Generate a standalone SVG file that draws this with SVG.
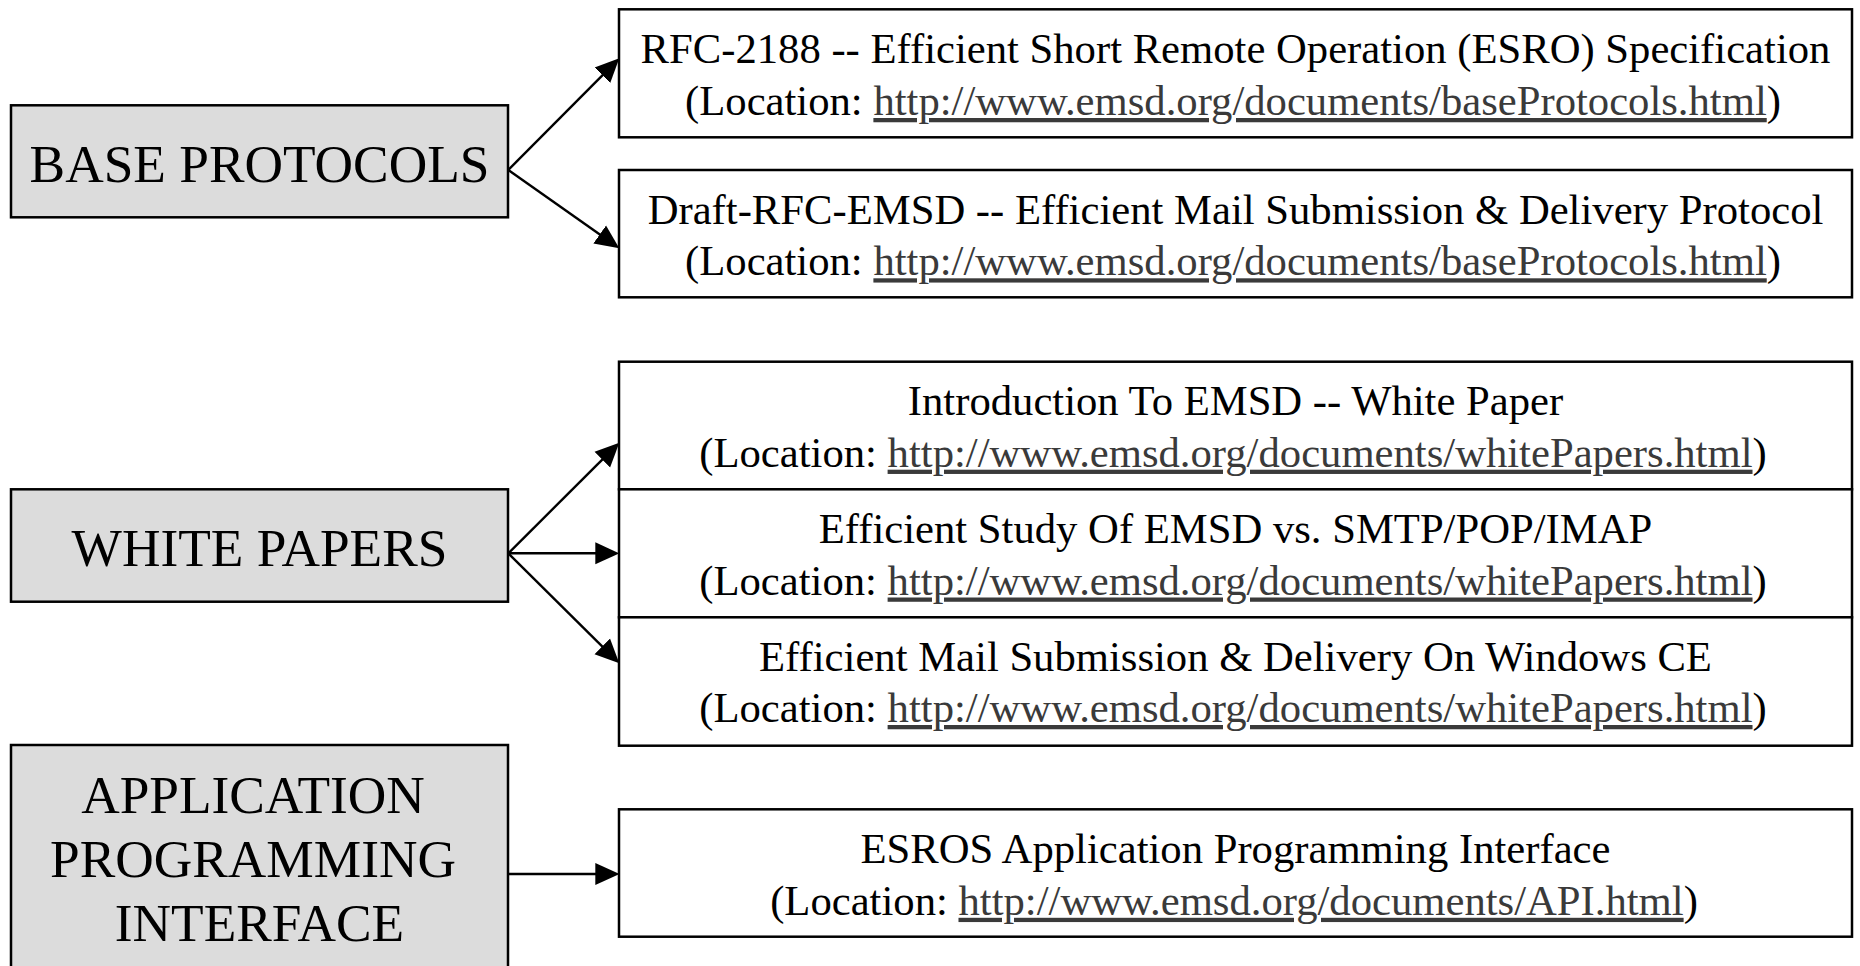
<svg xmlns="http://www.w3.org/2000/svg" width="1860" height="966" viewBox="0 0 1860 966">
  <style>
    text { font-family: "Liberation Serif", "Times New Roman", serif; fill: #000; }
    .cat { fill: #dcdcdc; stroke: #000; stroke-width: 2.5; }
    .doc { fill: #fff; stroke: #000; stroke-width: 2.5; }
    .big { font-size: 53.33px; text-anchor: middle; }
    .t { font-size: 42.67px; text-anchor: middle; }
    .url { fill: #3a3a3a; text-decoration: underline; }
    .edge { fill: none; stroke: #000; stroke-width: 2.4; marker-end: url(#ah); }
  </style>
  <defs>
    <marker id="ah" markerUnits="userSpaceOnUse" markerWidth="24" markerHeight="24" viewBox="0 0 24 24" refX="18" refY="12" orient="auto">
      <path d="M0,1 L24,12 L0,23 Z" fill="#000"/>
    </marker>
  </defs>
  <rect width="1860" height="966" fill="#fff"/>

  <g id="connectors">
    <path class="edge" d="M508.3,170 L615.07,62.56"/>
    <path class="edge" d="M508.3,170 L614.4,244.84"/>
    <path class="edge" d="M508.3,553.3 L615.05,446.93"/>
    <path class="edge" d="M508.3,553.3 L613.3,553.3"/>
    <path class="edge" d="M508.3,553.3 L615.04,659.08"/>
    <path class="edge" d="M508.3,874 L613.3,874"/>
  </g>

  <g id="base-protocols">
    <rect class="cat" x="11" y="105.3" width="497" height="112"/>
    <text class="big" x="259.5" y="181.5">BASE PROTOCOLS</text>
  </g>

  <g id="white-papers">
    <rect class="cat" x="11" y="489.3" width="497" height="112.4"/>
    <text class="big" x="259.5" y="565.5">WHITE PAPERS</text>
  </g>

  <g id="api">
    <rect class="cat" x="11" y="745" width="497" height="300"/>
    <text class="big" x="253" y="813">APPLICATION</text>
    <text class="big" x="253" y="877">PROGRAMMING</text>
    <text class="big" x="259.5" y="941">INTERFACE</text>
  </g>

  <g id="rfc-2188">
    <rect class="doc" x="619" y="9.3" width="1233" height="128"/>
    <text class="t" x="1235.5" y="63.3">RFC-2188 -- Efficient Short Remote Operation (ESRO) Specification</text>
    <text class="t" x="1233" y="115">(Location: <tspan class="url">http://www.emsd.org/documents/baseProtocols.html</tspan>)</text>
  </g>

  <g id="draft-rfc-emsd">
    <rect class="doc" x="619" y="170" width="1233" height="127.3"/>
    <text class="t" x="1235.5" y="223.5">Draft-RFC-EMSD -- Efficient Mail Submission &amp; Delivery Protocol</text>
    <text class="t" x="1233" y="275.3">(Location: <tspan class="url">http://www.emsd.org/documents/baseProtocols.html</tspan>)</text>
  </g>

  <g id="intro-emsd">
    <rect class="doc" x="619" y="361.7" width="1233" height="127.6"/>
    <text class="t" x="1235.5" y="415">Introduction To EMSD -- White Paper</text>
    <text class="t" x="1233" y="466.7">(Location: <tspan class="url">http://www.emsd.org/documents/whitePapers.html</tspan>)</text>
  </g>

  <g id="efficient-study">
    <rect class="doc" x="619" y="489.3" width="1233" height="128"/>
    <text class="t" x="1235.5" y="543">Efficient Study Of EMSD vs. SMTP/POP/IMAP</text>
    <text class="t" x="1233" y="594.5">(Location: <tspan class="url">http://www.emsd.org/documents/whitePapers.html</tspan>)</text>
  </g>

  <g id="emsd-windows-ce">
    <rect class="doc" x="619" y="617.3" width="1233" height="128.4"/>
    <text class="t" x="1235.5" y="671">Efficient Mail Submission &amp; Delivery On Windows CE</text>
    <text class="t" x="1233" y="722">(Location: <tspan class="url">http://www.emsd.org/documents/whitePapers.html</tspan>)</text>
  </g>

  <g id="esros-api">
    <rect class="doc" x="619" y="809.3" width="1233" height="127.4"/>
    <text class="t" x="1235.5" y="862.8">ESROS Application Programming Interface</text>
    <text class="t" x="1234" y="914.8">(Location: <tspan class="url">http://www.emsd.org/documents/API.html</tspan>)</text>
  </g>
</svg>
